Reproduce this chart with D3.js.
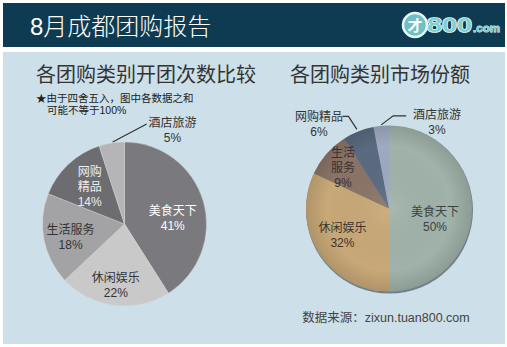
<!DOCTYPE html>
<html><head><meta charset="utf-8">
<script src="https://cdn.jsdelivr.net/npm/d3@7"></script>
<style>body{margin:0;background:#fff}svg{display:block}text{font-family:"Liberation Sans","Noto Sans CJK SC",sans-serif}</style>
</head><body><svg id="c" width="507" height="347"></svg>
<script>
const categories = ["美食天下","休闲娱乐","生活服务","网购精品","酒店旅游"];
const countShare = [41,22,18,14,5];
const marketShare = [50,32,9,6,3];
const leftColors = ["#7a797d","#c9c9ca","#a3a3a6","#6d6d71","#b5b5b8"];
const rightColors = ["#a0b2aa","#c8a877","#8a7467","#5a6a80","#9eaac1"];
const leftTitle = "各团购类别开团次数比较";
const rightTitle = "各团购类别市场份额";
const mainTitle = "8月成都团购报告";
const noteLines = ["★由于四舍五入，图中各数据之和","可能不等于100%"];
const sourceText = "数据来源：zixun.tuan800.com";

const svg = d3.select("#c");
const defs = svg.append("defs");
const rg = defs.append("radialGradient").attr("id","shade");
rg.append("stop").attr("offset","0%").attr("stop-color","#fff").attr("stop-opacity",0.08);
rg.append("stop").attr("offset","75%").attr("stop-color","#000").attr("stop-opacity",0.0);
rg.append("stop").attr("offset","100%").attr("stop-color","#000").attr("stop-opacity",0.12);

// header & panel
svg.append("rect").attr("x",3).attr("y",3).attr("width",502).attr("height",44).attr("fill","#0f3b52");
svg.append("rect").attr("x",3).attr("y",52).attr("width",502).attr("height",292).attr("fill","#cddfe8");
svg.append("text").attr("x",30).attr("y",35).attr("fill","#fff").attr("font-size",24).attr("font-weight",300).text(mainTitle);

// logo
const lg = svg.append("g");
lg.append("circle").attr("cx",415).attr("cy",25).attr("r",12).attr("fill","#6fbfc4").attr("stroke","#e8f7f7").attr("stroke-width",2.5);
lg.append("text").attr("x",415).attr("y",30.5).attr("text-anchor","middle").attr("font-size",15).attr("font-weight","bold").attr("fill","#fff").text("才");
lg.append("text").attr("x",427).attr("y",32).attr("font-size",20).attr("font-weight","bold")
  .attr("fill","#7fcfd3").attr("stroke","#eafafa").attr("stroke-width",1.4).attr("paint-order","stroke")
  .attr("textLength",45).attr("lengthAdjust","spacingAndGlyphs").text("800");
lg.append("text").attr("x",473).attr("y",32).attr("font-size",11).attr("font-weight","bold")
  .attr("fill","#7fcfd3").attr("stroke","#eafafa").attr("stroke-width",0.8).attr("paint-order","stroke")
  .attr("textLength",27).attr("lengthAdjust","spacingAndGlyphs").text(".com");

// titles
svg.append("text").attr("x",146).attr("y",82).attr("text-anchor","middle").attr("font-size",20).attr("fill","#333").text(leftTitle);
svg.append("text").attr("x",380).attr("y",82).attr("text-anchor","middle").attr("font-size",20).attr("fill","#333").text(rightTitle);
svg.append("text").attr("x",36).attr("y",102).attr("font-size",10.5).attr("fill","#222").text(noteLines[0]);
svg.append("text").attr("x",47).attr("y",114).attr("font-size",10.5).attr("fill","#222").text(noteLines[1]);
svg.append("text").attr("x",386).attr("y",322).attr("text-anchor","middle").attr("font-size",12.5).attr("fill","#444").text(sourceText);

const pie = d3.pie().sort(null).value(d=>d.v);

function drawPie(cx, cy, R, values, colors, shaded){
  const g = svg.append("g").attr("transform",`translate(${cx},${cy})`);
  const data = pie(values.map((v,i)=>({v, name:categories[i], i})));
  const arc = d3.arc().innerRadius(0).outerRadius(R);
  if(shaded){
    g.append("circle").attr("cx",0.5).attr("cy",1.5).attr("r",R+0.5).attr("fill","#4a5a5c").attr("opacity",0.7);
  }
  g.selectAll("path").data(data).join("path").attr("d",arc).attr("fill",d=>colors[d.index])
    .attr("stroke", shaded ? "none" : "#d8d8d8").attr("stroke-width",0.4);
  if(shaded) g.append("circle").attr("r",R).attr("fill","url(#shade)");
  return {g, data, arc};
}

// block of lines centred at (x,y)
function block(g, x, y, lines, color){
  const n = lines.length;
  lines.forEach((s,k)=>g.append("text").attr("text-anchor","middle").attr("font-size",12).attr("fill",color)
    .attr("x",x).attr("y",y - (n-1)*7.5 + k*15 + 4.5).text(s));
}
function pos(d, f, R){ const a=(d.startAngle+d.endAngle)/2; return [Math.sin(a)*R*f, -Math.cos(a)*R*f]; }
const twoLines = d => [d.data.name, d.data.v+"%"];
const threeLines = d => [d.data.name.slice(0,2), d.data.name.slice(2), d.data.v+"%"];

// left pie
const L = drawPie(124.5, 224, 82, countShare, leftColors, false);
{
  const d=L.data; let p;
  p=pos(d[0],0.6,82);  block(L.g,p[0]+1,p[1]+8,twoLines(d[0]),"#fff");
  p=pos(d[1],0.745,82); block(L.g,p[0]-1,p[1],twoLines(d[1]),"#333");
  p=pos(d[2],0.67,82); block(L.g,p[0],p[1]+3,twoLines(d[2]),"#333");
  p=pos(d[3],0.62,82); block(L.g,p[0],p[1],threeLines(d[3]),"#eee");
  const e=pos(d[4],1.0,82);
  L.g.append("line").attr("x1",e[0]+1).attr("y1",e[1]-1).attr("x2",e[0]+35).attr("y2",e[1]-19).attr("stroke","#333").attr("stroke-width",1.2);
  block(L.g,48,-94,twoLines(d[4]),"#333");
}

// right pie
const Rp = drawPie(389, 208.5, 83, marketShare, rightColors, true);
{
  const d=Rp.data; let p;
  p=pos(d[0],0.554,83); block(Rp.g,p[0],p[1]+10,twoLines(d[0]),"#3a4242");
  p=pos(d[1],0.65,83); block(Rp.g,p[0]-1,p[1]-2,twoLines(d[1]),"#3a3530");
  p=pos(d[2],0.74,83); block(Rp.g,p[0],p[1],threeLines(d[2]),"#3a3030");
  const e3=pos(d[3],1.0,83);
  Rp.g.append("path").attr("d",`M${e3[0]-1.5},${e3[1]-2} L${e3[0]-10},${e3[1]-15} L${e3[0]-16},${e3[1]-15}`).attr("fill","none").attr("stroke","#333").attr("stroke-width",1.2);
  block(Rp.g,-70,-85,twoLines(d[3]),"#333");
  const e4=pos(d[4],1.0,83);
  Rp.g.append("path").attr("d",`M${e4[0]},${e4[1]-1} L${e4[0]+12},${e4[1]-10} L${e4[0]+25},${e4[1]-10}`).attr("fill","none").attr("stroke","#333").attr("stroke-width",1.2);
  block(Rp.g,48,-87,twoLines(d[4]),"#333");
}
</script></body></html>
